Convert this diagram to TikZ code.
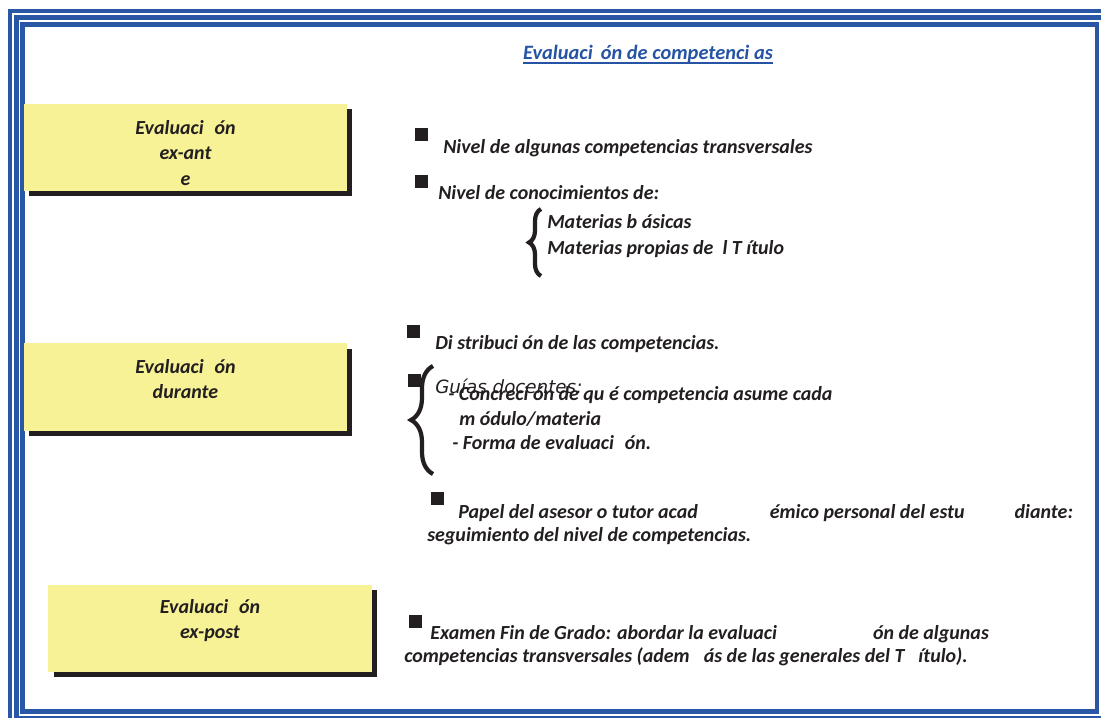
\documentclass[tikz,border=0pt]{standalone}
\usepackage{fontspec}
\setmainfont{Carlito}
\newfontfamily\guiafont{DejaVu Sans}
\usetikzlibrary{shapes.geometric, shadows, decorations.pathreplacing}
\definecolor{frameblue}{RGB}{42,86,166}
\definecolor{titleblue}{RGB}{38,84,164}
\definecolor{boxyellow}{RGB}{247,242,150}
\definecolor{inkgray}{RGB}{35,31,32}
\tikzstyle{framerule} = [draw=frameblue]
\tikzstyle{evalbox} = [rectangle, fill=boxyellow, minimum width=8.075cm, minimum height=2.175cm, inner sep=0pt, drop shadow={shadow xshift=3.6pt, shadow yshift=-3.6pt, fill=inkgray, opacity=1}]
\tikzstyle{boxtext} = [align=center, inner sep=0pt, text=inkgray, font=\fontsize{14.2}{18.3}\selectfont\bfseries\itshape]
\tikzstyle{itemtext} = [anchor=base west, inner sep=0pt, text=inkgray, font=\fontsize{14.2}{18}\selectfont\bfseries\itshape]
\tikzstyle{bullet} = [rectangle, fill=inkgray, minimum width=0.325cm, minimum height=0.325cm, inner sep=0pt]
\tikzstyle{curly} = [draw=inkgray, line width=3pt, decorate]

\begin{document}
\begin{tikzpicture}[x=0.025cm, y=-0.025cm]
		\useasboundingbox (0,0) rectangle (1101,718);
		\clip (0,0) rectangle (1101,718);
		\fill [white] (0,0) rectangle (1101,718);
		\draw [framerule, line width=3.2pt] (10,11) rectangle (1110,725);
		\draw [framerule, line width=4pt] (16.5,17.5) rectangle (1103.5,718.5);
		\draw [framerule, line width=3pt] (22.5,24.5) rectangle (1097,711.5);

		\node (title) [anchor=base, inner sep=0pt, text=titleblue, font=\fontsize{14.5}{16}\selectfont\bfseries\itshape] at (648,59) {Evaluaci\hspace{0.2cm}ón de competenci as};
		\draw [titleblue, line width=1.4pt] ([yshift=-3pt]title.base west) -- ([yshift=-3pt]title.base east);

		\node (exante) [evalbox] at (185.5,147.5) {};
		\node (exantetext) [boxtext] at (185.5,153) {Evaluaci\hspace{0.27cm}ón\\ex-ant\\e};
		\node (durante) [evalbox] at (185.5,387) {};
		\node (durantetext) [boxtext] at (185.5,379) {Evaluaci\hspace{0.27cm}ón\\durante};
		\node (expost) [evalbox] at (210,628.5) {};
		\node (expostext) [boxtext] at (210,620.5) {Evaluaci\hspace{0.27cm}ón\\ex-post};

		\node (b1) [bullet] at (421.5,134.5) {};
		\node (nivel) [itemtext] at (443,153) {Nivel de algunas competencias transversales};
		\node (b2) [bullet] at (421.5,181.5) {};
		\node (conoc) [itemtext] at (438,199) {Nivel de conocimientos de:};
		\coordinate (brace1bot) at (541,276);
		\coordinate (brace1top) at (541,209);
		\draw [curly, decoration={brace, amplitude=0.3cm}] (brace1bot) -- (brace1top);
		\node (basicas) [itemtext] at (547,228) {Materias b ásicas};
		\node (propias) [itemtext] at (547,254) {Materias propias de \ l T ítulo};

		\node (b3) [bullet] at (413.5,331) {};
		\node (distrib) [itemtext] at (435,349) {Di stribuci ón de las competencias.};
		\node (b4) [bullet] at (414.5,380.5) {};
		\coordinate (brace2bot) at (433,474);
		\coordinate (brace2top) at (433,366);
		\draw [curly, decoration={brace, amplitude=0.55cm}] (brace2bot) -- (brace2top);
		\node (guias) [anchor=base west, inner sep=0pt, text=inkgray, font=\fontsize{13}{15}\selectfont\guiafont\itshape] at (435,393) {Guías docentes:};
		\node (concrec) [itemtext] at (448,400) {- Concreci ón de qu é competencia asume cada};
		\node (modulo) [itemtext] at (459,425) {m ódulo/materia};
		\node (forma) [itemtext] at (452,449) {- Forma de evaluaci\hspace{0.27cm}ón.};
		\node (b5) [bullet] at (437,498.5) {};
		\node (papel) [itemtext] at (458,518) {Papel del asesor o tutor acad\hspace{1.8cm}émico personal del estu\hspace{1.25cm}diante:};
		\node (segui) [itemtext] at (427,541) {seguimiento del nivel de competencias.};

		\node (b6) [bullet] at (415.5,621.5) {};
		\node (examen) [itemtext] at (430,639) {Examen Fin de Grado: abordar la evaluaci\hspace{2.4cm}ón de algunas};
		\node (transv) [itemtext] at (404,662) {competencias transversales (adem\hspace{0.35cm}ás de las generales del T\hspace{0.35cm}ítulo).};
\end{tikzpicture}
\end{document}
